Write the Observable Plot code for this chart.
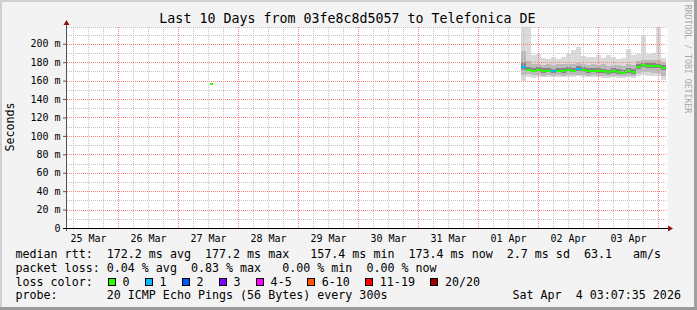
<!DOCTYPE html>
<html><head><meta charset="utf-8">
<script src="https://cdn.jsdelivr.net/npm/d3@7"></script>
<script src="https://cdn.jsdelivr.net/npm/@observablehq/plot@0.6"></script>
<style>
html,body{margin:0;padding:0;background:#f3f3f3}
#wrap{position:relative;width:697px;height:310px;background:#f3f3f3;overflow:hidden;font-family:"DejaVu Sans Mono",monospace;color:#000}
#wrap svg{position:absolute;left:0;top:0}
.t{position:absolute;white-space:pre;font-size:11.67px;line-height:14px;font-family:"DejaVu Sans Mono",monospace}
.b{position:absolute}
.sw{position:absolute;width:8px;height:8px;box-sizing:border-box;border:1px solid #000}
</style></head><body>
<div id="wrap"></div>
<script>
// ---- texts ----
const title = "Last 10 Days from 03fe8c8d5057 to Telefonica DE";
const yLabel = "Seconds";
const watermark = "RRDTOOL / TOBI OETIKER";
const legendRtt = "median rtt:  172.2 ms avg  177.2 ms max   157.4 ms min  173.4 ms now  2.7 ms sd  63.1   am/s";
const legendLoss = "packet loss: 0.04 % avg  0.83 % max   0.00 % min  0.00 % now";
const legendColorLabel = "loss color:";
const lossLabels = ["0", "1", "2", "3", "4-5", "6-10", "11-19", "20/20"];
const lossColors = ["#26ff00", "#00b8ff", "#0059ff", "#7e00ff", "#ff00ff", "#ff5500", "#ff0000", "#a10000"];
const probeText = "probe:       20 ICMP Echo Pings (56 Bytes) every 300s";
const dateText = "Sat Apr  4 03:07:35 2026";

// ---- axes ----
const xStart = "2026-03-25T03:36:00Z";
const xEnd = "2026-04-04T03:36:00Z";
const yMax = 218.2;
const yTicks = [0, 20, 40, 60, 80, 100, 120, 140, 160, 180, 200];
const yTickLabels = ["0", "20 m", "40 m", "60 m", "80 m", "100 m", "120 m", "140 m", "160 m", "180 m", "200 m"];
const yMinor = [10, 30, 50, 70, 90, 110, 130, 150, 170, 190, 210];
const dayTicks = ["2026-03-25T12:00:00Z", "2026-03-26T12:00:00Z", "2026-03-27T12:00:00Z", "2026-03-28T12:00:00Z", "2026-03-29T12:00:00Z",
  "2026-03-30T12:00:00Z", "2026-03-31T12:00:00Z", "2026-04-01T12:00:00Z", "2026-04-02T12:00:00Z", "2026-04-03T12:00:00Z"];
const dayLabels = ["25 Mar", "26 Mar", "27 Mar", "28 Mar", "29 Mar", "30 Mar", "31 Mar", "01 Apr", "02 Apr", "03 Apr"];

// ---- data: 2-hour buckets (start times) ----
const times = [
  "2026-04-01T17:00:00Z", "2026-04-01T19:00:00Z", "2026-04-01T21:00:00Z", "2026-04-01T23:00:00Z",
  "2026-04-02T01:00:00Z", "2026-04-02T03:00:00Z", "2026-04-02T05:00:00Z", "2026-04-02T07:00:00Z",
  "2026-04-02T09:00:00Z", "2026-04-02T11:00:00Z", "2026-04-02T13:00:00Z", "2026-04-02T15:00:00Z",
  "2026-04-02T17:00:00Z", "2026-04-02T19:00:00Z", "2026-04-02T21:00:00Z", "2026-04-02T23:00:00Z",
  "2026-04-03T01:00:00Z", "2026-04-03T03:00:00Z", "2026-04-03T05:00:00Z", "2026-04-03T07:00:00Z",
  "2026-04-03T09:00:00Z", "2026-04-03T11:00:00Z", "2026-04-03T13:00:00Z", "2026-04-03T15:00:00Z",
  "2026-04-03T17:00:00Z", "2026-04-03T19:00:00Z", "2026-04-03T21:00:00Z", "2026-04-03T23:00:00Z",
  "2026-04-04T01:00:00Z"];
const medianRtt = [175, 172.5, 171.5, 172, 171, 171.5, 170.5, 171.5, 171, 172, 171.5, 173, 172, 171, 171.5, 171, 170.5, 169.5, 171, 170, 169, 171, 170, 175.5, 177, 176.5, 176.5, 176, 174];
const lossCount = [1, 0, 0, 0, 0, 0, 1, 0, 0, 0, 0, 1, 0, 0, 0, 0, 0, 0, 0, 0, 0, 0, 0, 0, 0, 0, 0, 0, 0];
const rttMax = [225, 225, 188, 189, 185, 184, 186, 184, 186, 189, 193, 196, 187, 186, 186, 188, 185, 188, 186, 183, 185, 194, 188, 189, 209, 189, 190, 225, 185];
const rttP90 = [192, 181, 178, 178.5, 177, 177.5, 177, 177.5, 178, 178.5, 178.5, 179.5, 178, 177, 178, 177, 177.5, 176, 177, 176.5, 176, 178, 177, 181, 182.5, 182, 182, 182, 179];
const rttP75 = [180, 175, 174, 174.5, 173.5, 174, 173, 174, 173.5, 174.5, 174, 175.5, 174.5, 173.5, 174, 173.5, 173, 172, 173.5, 172.5, 171.5, 173.5, 172.5, 178, 179.5, 179, 179, 178.5, 176.5];
const rttP25 = [171.5, 170, 169, 169.5, 168.5, 169, 168, 169, 168.5, 169.5, 169, 170.5, 169.5, 168.5, 169, 168.5, 168, 167, 168.5, 167.5, 167, 168.5, 167.5, 173, 174.5, 174, 174, 173.5, 171.5];
const rttP10 = [166, 167, 166, 166.5, 165.5, 166, 165.5, 166, 165.5, 166, 166, 166.5, 166, 165.5, 166, 165.5, 165, 164.5, 165.5, 165, 164.5, 165.5, 165, 168, 169, 169, 168.5, 168, 165];
const rttMin = [160, 163.5, 163, 164, 163.5, 164, 163.5, 164, 163.5, 164, 164, 164.5, 164, 163.5, 164, 163.5, 163, 162.5, 163.5, 163, 162.5, 163.5, 163, 165, 166, 165.5, 165, 164.5, 160.5];
// isolated sample on 27 Mar
const loneStart = ["2026-03-27T12:40:00Z"];
const loneEnd = ["2026-03-27T13:55:00Z"];
const loneMedian = [157.4];
const loneLoss = [0];

// ---- build tables ----
const H2 = 2 * 3600 * 1000;
const rows = times.map((t, i) => ({
  t0: new Date(t), t1: new Date(+new Date(t) + H2),
  med: medianRtt[i], loss: lossCount[i],
  max: rttMax[i], p90: rttP90[i], p75: rttP75[i], p25: rttP25[i], p10: rttP10[i], min: rttMin[i]
}));
const lone = loneStart.map((t, i) => ({t0: new Date(t), t1: new Date(loneEnd[i]), med: loneMedian[i], loss: loneLoss[i]}));
const x0d = new Date(xStart), x1d = new Date(xEnd);
const hours6 = d3.utcHour.every(6).range(x0d, x1d);
const majorX = hours6.filter(d => d.getUTCHours() === 0);
const minorX = hours6.filter(d => d.getUTCHours() !== 0);
const labelMap = new Map(dayTicks.map((d, i) => [+new Date(d), dayLabels[i]]));
const yLabelMap = new Map(yTicks.map((v, i) => [v, yTickLabels[i]]));
const crisp = {shapeRendering: "crispEdges"};
const minorGrid = "#c4c4c4";
const majorGrid = "#ff8080";

const plot = Plot.plot({
  width: 697, height: 310,
  marginLeft: 67, marginRight: 30, marginTop: 27, marginBottom: 82,
  style: {background: "transparent", fontFamily: '"DejaVu Sans Mono", monospace', fontSize: "10px", color: "#000", overflow: "visible"},
  x: {type: "utc", domain: [x0d, x1d]},
  y: {domain: [0, yMax]},
  color: {type: "identity"},
  marks: [
    Plot.frame({fill: "#ffffff", stroke: "none"}),
    Plot.rect(rows, {x1: "t0", x2: "t1", y1: "min", y2: "max", fill: "#dadada", clip: true, ...crisp}),
    Plot.rect(rows, {x1: "t0", x2: "t1", y1: "p10", y2: "p90", fill: "#bababa", clip: true, ...crisp}),
    Plot.rect(rows, {x1: "t0", x2: "t1", y1: "p25", y2: "p75", fill: "#858585", clip: true, ...crisp}),
    Plot.ruleY(yMinor.concat([yMax]), {stroke: minorGrid, strokeDasharray: "1,1", ...crisp}),
    Plot.ruleX(minorX, {stroke: minorGrid, strokeDasharray: "1,1", ...crisp}),
    Plot.ruleY(yTicks.slice(1), {stroke: majorGrid, strokeDasharray: "1,1", ...crisp}),
    Plot.ruleX(majorX, {stroke: majorGrid, strokeDasharray: "1,1", ...crisp}),
    Plot.ruleY(rows, {x1: "t0", x2: "t1", y: "med", stroke: d => lossColors[d.loss], strokeWidth: 2, ...crisp}),
    Plot.ruleY(lone, {x1: "t0", x2: "t1", y: "med", stroke: d => lossColors[d.loss], strokeWidth: 2, ...crisp}),
    Plot.axisY({ticks: yTicks, tickFormat: v => yLabelMap.get(v), tickSize: 4, tickPadding: 3, label: null, stroke: "#555"}),
    Plot.axisX({ticks: dayTicks.map(d => new Date(d)), tickFormat: d => labelMap.get(+d), tickSize: 0, tickPadding: 6, label: null})
  ]
});

const wrap = d3.select("#wrap");
wrap.node().appendChild(plot);

// axis lines and arrows derived from the scales
const xs = plot.scale("x"), ys = plot.scale("y");
const [px0, px1] = xs.range;
const [py0, py1] = ys.range;
const g = d3.select(plot).append("g");
const ax = px0 - 0.5, ay = py0 + 0.5;
g.append("line").attr("x1", ax).attr("x2", ax).attr("y1", py0 + 3).attr("y2", py1 - 3).attr("stroke", "#555").attr("stroke-width", 1);
g.append("line").attr("x1", px0 - 4).attr("x2", px1 + 1).attr("y1", ay).attr("y2", ay).attr("stroke", "#000").attr("stroke-width", 1);
g.append("polygon").attr("points", `${ax - 3},${py1 - 2} ${ax + 3},${py1 - 2} ${ax},${py1 - 7}`).attr("fill", "#8b1414");
g.append("polygon").attr("points", `${px1 + 1},${ay - 3} ${px1 + 1},${ay + 3} ${px1 + 6},${ay}`).attr("fill", "#8b1414");

// borders
wrap.append("div").attr("class", "b").style("left", "0px").style("top", "0px").style("width", "697px").style("height", "2px").style("background", "#d0d0d0");
wrap.append("div").attr("class", "b").style("left", "0px").style("top", "0px").style("width", "2px").style("height", "310px").style("background", "#d0d0d0");
wrap.append("div").attr("class", "b").style("left", "694px").style("top", "0px").style("width", "3px").style("height", "310px").style("background", "#a0a0a0");
wrap.append("div").attr("class", "b").style("left", "0px").style("top", "307px").style("width", "697px").style("height", "3px").style("background", "#9a9a9a");

// title
wrap.append("div").attr("class", "t").style("left", "-1px").style("top", "11px").style("width", "697px")
  .style("text-align", "center").style("font-size", "13.3px").style("line-height", "16px").text(title);
// y label
wrap.append("div").attr("class", "t").style("left", "-20px").style("top", "120px").style("width", "60px").style("text-align", "center")
  .style("transform", "rotate(-90deg)").style("transform-origin", "50% 50%").text(yLabel);
// watermark
wrap.append("div").attr("class", "t").style("left", "627.5px").style("top", "54px").style("width", "120px").style("text-align", "center")
  .style("font-size", "8.2px").style("line-height", "10px").style("color", "#a8a8a8")
  .style("transform", "rotate(90deg)").style("transform-origin", "50% 50%").text(watermark);

// legend
wrap.append("div").attr("class", "t").style("left", "15.5px").style("top", "247.3px").text(legendRtt);
wrap.append("div").attr("class", "t").style("left", "15.5px").style("top", "260.8px").text(legendLoss);
wrap.append("div").attr("class", "t").style("left", "15.5px").style("top", "274.5px").text(legendColorLabel);
let lx = 108;
lossLabels.forEach((lab, i) => {
  wrap.append("div").attr("class", "sw").style("left", lx + "px").style("top", "278px").style("background", lossColors[i]);
  wrap.append("div").attr("class", "t").style("left", (lx + 14.5) + "px").style("top", "274.5px").text(lab);
  lx += 15 + lab.length * 7.03 + 15;
});
wrap.append("div").attr("class", "t").style("left", "15.5px").style("top", "288px").text(probeText);
wrap.append("div").attr("class", "t").style("left", "512.5px").style("top", "288px").text(dateText);
</script>
</body></html>
